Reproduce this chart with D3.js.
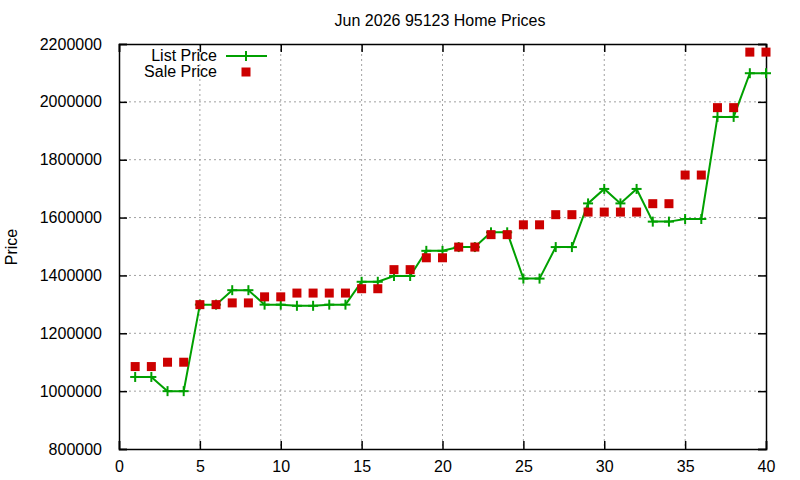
<!DOCTYPE html>
<html><head><meta charset="utf-8">
<script src="https://cdn.jsdelivr.net/npm/d3@7"></script>
<style>body{margin:0;background:#fff}text{font-family:"Liberation Sans",Arial,sans-serif;}</style>
</head><body><svg id="c" width="800" height="480"></svg>
<script>
const xs = d3.range(1, 41);
const listPrice = [1049000,1049000,1000000,1000000,1299000,1299000,1349000,1349000,1299000,1299000,
  1295000,1295000,1299000,1299000,1378000,1378000,1398000,1398000,1485000,1485000,
  1498000,1498000,1549000,1549000,1389000,1389000,1498000,1498000,1649000,1699000,
  1649000,1699000,1586000,1586000,1595000,1595000,1948000,1948000,2099000,2099000];
const salePrice = [1085000,1085000,1100000,1100000,1299000,1299000,1305000,1305000,1326000,1326000,
  1339000,1339000,1339000,1339000,1354000,1354000,1420000,1420000,1461000,1461000,
  1498000,1498000,1541000,1541000,1575000,1575000,1610000,1610000,1619000,1619000,
  1619000,1619000,1648000,1648000,1747000,1747000,1980000,1980000,2172000,2172000];
const xTicks = [0,5,10,15,20,25,30,35,40];
const yTicks = [800000,1000000,1200000,1400000,1600000,1800000,2000000,2200000];
const title = "Jun 2026 95123 Home Prices";

const svg = d3.select("#c");
const L=119, R=766, T=44, B=449;
const x = d3.scaleLinear().domain([0,40]).range([L,R]);
const y = d3.scaleLinear().domain([800000,2200000]).range([B,T]);

// grid
const g = svg.append("g");
g.selectAll(".gx").data(xTicks.slice(1,-1)).join("line")
  .attr("x1",d=>x(d)).attr("x2",d=>x(d)).attr("y1",T).attr("y2",B)
  .attr("stroke","#a0a0a0").attr("stroke-dasharray","2,3").attr("stroke-width",1);
g.selectAll(".gy").data(yTicks.slice(1,-1)).join("line")
  .attr("y1",d=>y(d)).attr("y2",d=>y(d)).attr("x1",L).attr("x2",R)
  .attr("stroke","#a0a0a0").attr("stroke-dasharray","2,3").attr("stroke-width",1);

// axes
const ax = svg.append("g").attr("transform",`translate(0,${B})`)
  .call(d3.axisBottom(x).tickValues(xTicks).tickSize(-8).tickPadding(12).tickFormat(d3.format("d")));
const axT = svg.append("g").attr("transform",`translate(0,${T})`)
  .call(d3.axisTop(x).tickValues(xTicks).tickSize(-8).tickFormat(""));
const ay = svg.append("g").attr("transform",`translate(${L},0)`)
  .call(d3.axisLeft(y).tickValues(yTicks).tickSize(-8).tickPadding(17).tickFormat(d3.format("d")));
const ayR = svg.append("g").attr("transform",`translate(${R},0)`)
  .call(d3.axisRight(y).tickValues(yTicks).tickSize(-8).tickFormat(""));
[ax,axT,ay,ayR].forEach(a=>{
  a.select(".domain").attr("stroke","#000").attr("stroke-width",1.5);
  a.selectAll(".tick line").attr("stroke","#000").attr("stroke-width",1.5);
  a.selectAll("text").attr("fill","#000").style("font-size","16px")
   .style("font-family","'Liberation Sans',Arial,sans-serif");
});
ax.selectAll("text").attr("dy","0.71em");

// line
const line = d3.line().x((d,i)=>x(xs[i])).y(d=>y(d));
svg.append("path").datum(listPrice).attr("d",line).attr("fill","none")
  .attr("stroke","#00a000").attr("stroke-width",2);
const plus = (sel)=>sel.each(function(d,i){
  const s=d3.select(this);
  s.append("line").attr("x1",-5).attr("x2",5).attr("y1",0).attr("y2",0);
  s.append("line").attr("x1",0).attr("x2",0).attr("y1",-5).attr("y2",5);
});
svg.append("g").selectAll("g").data(listPrice).join("g")
  .attr("transform",(d,i)=>`translate(${x(xs[i])},${y(d)})`)
  .attr("stroke","#00a000").attr("stroke-width",2).call(plus);

// sale squares
svg.append("g").selectAll("rect").data(salePrice).join("rect")
  .attr("x",(d,i)=>x(xs[i])-4.5).attr("y",d=>y(d)-4.5).attr("width",9).attr("height",9)
  .attr("fill","#cc0000");

// title & labels
svg.append("text").attr("x",440).attr("y",26).attr("text-anchor","middle")
  .style("font-size","16px").text(title);
svg.append("text").attr("transform","translate(17,247) rotate(-90)").attr("text-anchor","middle")
  .style("font-size","16px").text("Price");

// legend
const lg = svg.append("g");
lg.append("text").attr("x",217).attr("y",61).attr("text-anchor","end").style("font-size","16px").text("List Price");
lg.append("text").attr("x",217).attr("y",77).attr("text-anchor","end").style("font-size","16px").text("Sale Price");
lg.append("line").attr("x1",226).attr("x2",267).attr("y1",56).attr("y2",56).attr("stroke","#00a000").attr("stroke-width",2);
lg.append("g").attr("transform","translate(246,56)").attr("stroke","#00a000").attr("stroke-width",2)
  .datum(0).call(plus);
lg.append("rect").attr("x",241.5).attr("y",67.5).attr("width",9).attr("height",9).attr("fill","#cc0000");
</script></body></html>
